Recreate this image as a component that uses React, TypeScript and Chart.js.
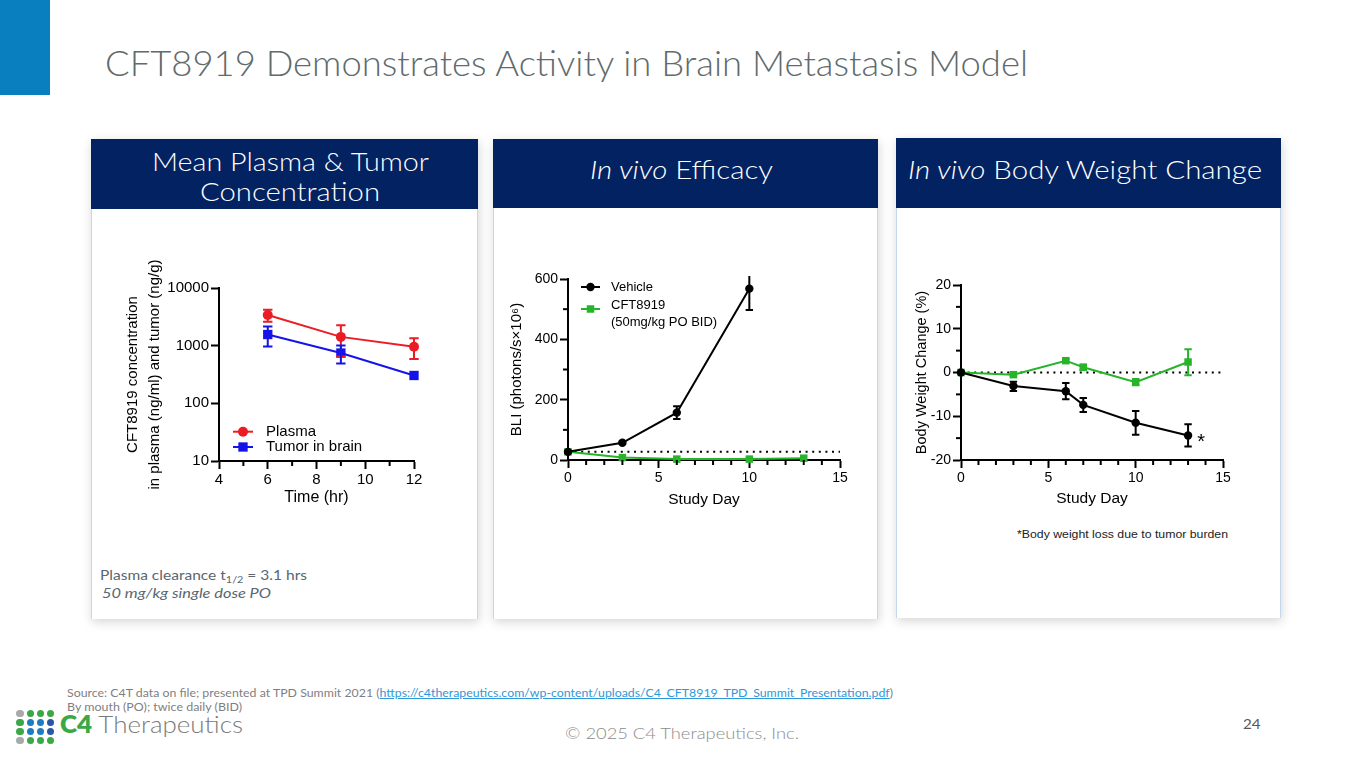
import React, { useEffect, useLayoutEffect, useRef } from 'react';
import { Chart, registerables } from 'chart.js';

Chart.register(...registerables);

const FONT = "'Liberation Sans', Arial, sans-serif";
const SLIDE_FONT = "Lato, 'Open Sans', sans-serif";
Chart.defaults.font.family = FONT;
Chart.defaults.color = '#000';

// ---------- Panel 1: mean plasma & tumor concentration ----------
const pkHours = [6, 9, 12];
const plasmaMean = [3400, 1420, 960];
const plasmaLow = [2600, 650, 590];
const plasmaHigh = [4200, 2250, 1350];
const tumorMean = [1560, 745, 304];
const tumorLow = [970, 490, 304];
const tumorHigh = [2150, 1010, 304];
const pkYTicks = [10, 100, 1000, 10000];

// ---------- Panel 2: in vivo efficacy (BLI) ----------
const effVehicleDays = [0, 3, 6, 10];
const effVehicle = [27, 57, 157, 568];
const effVehicleLow = [23, 53, 136, 497];
const effVehicleHigh = [31, 61, 178, 660];
const effCftDays = [0, 3, 6, 10, 13];
const effCft = [27, 8, 3, 3, 6];
const effCftLow = [27, 8, 3, 3, 6];
const effCftHigh = [27, 8, 3, 3, 6];
const effBaselineDays = [0, 15];
const effBaseline = [27, 27];

// ---------- Panel 3: body weight change ----------
const bwDays = [0, 3, 6, 7, 10, 13];
const bwVehicle = [0, -3.1, -4.3, -7.4, -11.5, -14.4];
const bwVehicleLow = [0, -4.2, -6.1, -9.0, -14.2, -16.9];
const bwVehicleHigh = [0, -2.1, -2.4, -5.8, -8.8, -11.8];
const bwCft = [0, -0.5, 2.7, 1.2, -2.2, 2.4];
const bwCftLow = [0, -0.8, 2.3, 0.6, -2.9, -0.6];
const bwCftHigh = [0, -0.2, 3.1, 1.8, -1.5, 5.3];
const bwBaselineDays = [0, 15];
const bwBaseline = [0, 0];
const bwNoteX = [13.75];
const bwNoteY = [-16.0];
const bwNoteText = ['*'];

const RED = '#ec1c24';
const BLUE = '#1414e8';
const GREEN = '#27b42a';
const BLACK = '#000000';
const NAVY = '#032262';

const pts = (xs: number[], ys: number[]) => xs.map((x, i) => ({ x, y: ys[i] }));

// ---------- plugins ----------
const errorBarPlugin = {
  id: 'errorBars',
  afterDatasetsDraw(chart: any, _a: any, opts: any) {
    const { ctx, chartArea } = chart;
    const xs = chart.scales.x;
    const ys = chart.scales.y;
    ctx.save();
    ctx.beginPath();
    ctx.rect(chartArea.left - 20, chartArea.top - 3, chartArea.right - chartArea.left + 40, chartArea.bottom - chartArea.top + 23);
    ctx.clip();
    chart.data.datasets.forEach((ds: any) => {
      if (!ds.errLow || !ds.errHigh) return;
      ctx.strokeStyle = ds.borderColor;
      ctx.lineWidth = opts.width || 2;
      const c = opts.cap || 4;
      ds.data.forEach((p: any, j: number) => {
        const lo = ds.errLow[j];
        const hi = ds.errHigh[j];
        if (lo === hi) return;
        const px = xs.getPixelForValue(p.x);
        const yl = ys.getPixelForValue(lo);
        const yh = ys.getPixelForValue(hi);
        ctx.beginPath();
        ctx.moveTo(px, yl);
        ctx.lineTo(px, yh);
        ctx.moveTo(px - c, yl);
        ctx.lineTo(px + c, yl);
        ctx.moveTo(px - c, yh);
        ctx.lineTo(px + c, yh);
        ctx.stroke();
      });
    });
    ctx.restore();
  },
};

function drawMarker(ctx: CanvasRenderingContext2D, style: string, x: number, y: number, r: number, color: string) {
  ctx.fillStyle = color;
  ctx.beginPath();
  if (style === 'rect') {
    const s = r * Math.SQRT1_2;
    ctx.rect(x - s, y - s, 2 * s, 2 * s);
  } else {
    ctx.arc(x, y, r, 0, Math.PI * 2);
  }
  ctx.fill();
}

const inlineLegendPlugin = {
  id: 'inlineLegend',
  afterDraw(chart: any, _a: any, opts: any) {
    if (!opts || !opts.rows) return;
    const { ctx, chartArea } = chart;
    const x0 = chartArea.left + opts.x;
    let idx = 0;
    chart.data.datasets.forEach((ds: any) => {
      if (!ds.legendLines) return;
      const y = chartArea.top + opts.rows[idx++];
      ctx.save();
      ctx.strokeStyle = ds.borderColor;
      ctx.lineWidth = ds.borderWidth;
      ctx.beginPath();
      ctx.moveTo(x0, y);
      ctx.lineTo(x0 + opts.lineLen, y);
      ctx.stroke();
      drawMarker(ctx, ds.pointStyle, x0 + opts.lineLen / 2, y, ds.pointRadius, ds.backgroundColor);
      ctx.font = opts.font;
      ctx.fillStyle = '#000';
      ctx.textBaseline = 'middle';
      ctx.textAlign = 'left';
      const lines: string[] = ds.legendLines;
      const start = lines.length > 1 ? y + opts.multiShift : y;
      lines.forEach((t, k) => ctx.fillText(t, x0 + opts.textX, start + k * opts.lineHeight));
      ctx.restore();
    });
  },
};

const minorTickPlugin = {
  id: 'minorTicks',
  afterDraw(chart: any, _a: any, opts: any) {
    if (!opts) return;
    const { ctx, chartArea } = chart;
    ctx.save();
    ctx.strokeStyle = '#000';
    ctx.lineWidth = 2;
    ['x', 'y'].forEach((axis) => {
      const step = opts[axis + 'Step'];
      const major = opts[axis + 'Major'];
      if (!step) return;
      const s = chart.scales[axis];
      for (let v = s.min; v <= s.max + 1e-9; v += step) {
        const q = v / major;
        if (Math.abs(q - Math.round(q)) < 1e-6) continue;
        const p = s.getPixelForValue(v);
        ctx.beginPath();
        if (axis === 'x') {
          ctx.moveTo(p, chartArea.bottom);
          ctx.lineTo(p, chartArea.bottom + opts.len);
        } else {
          ctx.moveTo(chartArea.left - opts.len, p);
          ctx.lineTo(chartArea.left, p);
        }
        ctx.stroke();
      }
    });
    ctx.restore();
  },
};

const notesPlugin = {
  id: 'pointNotes',
  afterDatasetsDraw(chart: any, _a: any, opts: any) {
    if (!opts || !opts.text) return;
    const { ctx } = chart;
    ctx.save();
    ctx.font = opts.font;
    ctx.fillStyle = '#000';
    ctx.textAlign = 'center';
    ctx.textBaseline = 'middle';
    opts.text.forEach((t: string, i: number) => {
      ctx.fillText(t, chart.scales.x.getPixelForValue(opts.xs[i]), chart.scales.y.getPixelForValue(opts.ys[i]));
    });
    ctx.restore();
  },
};

// ---------- axis helpers ----------
function axisStyle(tickSize: number) {
  return {
    border: { display: true, color: '#000', width: 2 },
    grid: { display: true, drawOnChartArea: false, drawTicks: true, tickLength: 8, color: '#000', tickWidth: 2 },
    ticks: { color: '#000', font: { size: tickSize }, padding: 2, autoSkip: false, maxRotation: 0, includeBounds: false },
  };
}

function xTitle(text: string, size: number, pad: number) {
  return { display: true, text, color: '#000', font: { size, lineHeight: 1.2 }, padding: { top: 0, bottom: pad } };
}
function yTitle(text: string | string[], size: number, lh: number, pad: number) {
  return { display: true, text, color: '#000', font: { size, lineHeight: lh }, padding: { top: pad, bottom: 0 } };
}

function lineDs(extra: any) {
  return {
    borderWidth: 2,
    fill: false,
    tension: 0,
    clip: false,
    pointBorderWidth: 0,
    ...extra,
    pointBackgroundColor: extra.backgroundColor,
    pointBorderColor: extra.backgroundColor,
  };
}

function baselineDs(xs: number[], ys: number[]) {
  return {
    data: pts(xs, ys),
    borderColor: '#000',
    borderWidth: 2,
    borderDash: [2, 4.6],
    pointRadius: 0,
    fill: false,
    clip: false,
  };
}

function pkConfig(): any {
  const ax = axisStyle(15);
  return {
    type: 'line',
    data: {
      datasets: [
        lineDs({ data: pts(pkHours, plasmaMean), errLow: plasmaLow, errHigh: plasmaHigh, legendLines: ['Plasma'], borderColor: RED, backgroundColor: RED, pointStyle: 'circle', pointRadius: 5 }),
        lineDs({ data: pts(pkHours, tumorMean), errLow: tumorLow, errHigh: tumorHigh, legendLines: ['Tumor in brain'], borderColor: BLUE, backgroundColor: BLUE, pointStyle: 'rect', pointRadius: 6.6 }),
      ],
    },
    options: {
      animation: false,
      responsive: false,
      events: [],
      layout: { padding: { top: 38, right: 21, left: 0, bottom: 0 } },
      plugins: {
        legend: { display: false },
        tooltip: { enabled: false },
        errorBars: { cap: 4.7, width: 2 },
        inlineLegend: { x: 14, rows: [143.7, 159], lineLen: 20, textX: 33, font: `15px ${FONT}`, lineHeight: 16, multiShift: 0 },
        minorTicks: { xStep: 1, xMajor: 2, len: 5 },
      },
      scales: {
        x: {
          type: 'linear', min: 4, max: 12, ...ax,
          ticks: { ...ax.ticks, stepSize: 2, callback: (v: number) => String(v) },
          title: xTitle('Time (hr)', 16, 7.4),
          afterFit: (s: any) => { s.height = 54; },
        },
        y: {
          type: 'logarithmic', min: 10, max: 10000, ...ax,
          ticks: { ...ax.ticks, callback: (v: number) => String(v) },
          afterBuildTicks: (s: any) => { s.ticks = pkYTicks.map((v) => ({ value: v })); },
          title: yTitle(['CFT8919 concentration', 'in plasma (ng/ml) and tumor (ng/g)'], 15, 1.467, 32),
          afterFit: (s: any) => { s.width = 129; },
        },
      },
    },
    plugins: [errorBarPlugin, inlineLegendPlugin, minorTickPlugin],
  };
}

function effConfig(): any {
  const ax = axisStyle(14);
  return {
    type: 'line',
    data: {
      datasets: [
        lineDs({ data: pts(effVehicleDays, effVehicle), errLow: effVehicleLow, errHigh: effVehicleHigh, legendLines: ['Vehicle'], borderColor: BLACK, backgroundColor: BLACK, pointStyle: 'circle', pointRadius: 4.2 }),
        lineDs({ data: pts(effCftDays, effCft), errLow: effCftLow, errHigh: effCftHigh, legendLines: ['CFT8919', '(50mg/kg PO BID)'], borderColor: GREEN, backgroundColor: GREEN, pointStyle: 'rect', pointRadius: 5.3 }),
        baselineDs(effBaselineDays, effBaseline),
      ],
    },
    options: {
      animation: false,
      responsive: false,
      events: [],
      layout: { padding: { top: 29, right: 20, left: 0, bottom: 0 } },
      plugins: {
        legend: { display: false },
        tooltip: { enabled: false },
        errorBars: { cap: 3.7, width: 2 },
        inlineLegend: { x: 13, rows: [8, 30], lineLen: 19, textX: 30, font: `13px ${FONT}`, lineHeight: 16.3, multiShift: -3.3 },
        minorTicks: { xStep: 1, xMajor: 5, yStep: 100, yMajor: 200, len: 5 },
      },
      scales: {
        x: {
          type: 'linear', min: 0, max: 15, ...ax,
          ticks: { ...ax.ticks, stepSize: 5 },
          title: xTitle('Study Day', 15.5, 6.4),
          afterFit: (s: any) => { s.height = 55; },
        },
        y: {
          type: 'linear', min: 0, max: 600, ...ax,
          ticks: { ...ax.ticks, stepSize: 200 },
          title: yTitle('BLI (photons/s×10⁶)', 15, 1.2, 17.7),
          afterFit: (s: any) => { s.width = 78; },
        },
      },
    },
    plugins: [errorBarPlugin, inlineLegendPlugin, minorTickPlugin],
  };
}

function bwConfig(): any {
  const ax = axisStyle(14);
  return {
    type: 'line',
    data: {
      datasets: [
        lineDs({ data: pts(bwDays, bwVehicle), errLow: bwVehicleLow, errHigh: bwVehicleHigh, borderColor: BLACK, backgroundColor: BLACK, pointStyle: 'circle', pointRadius: 4.2 }),
        lineDs({ data: pts(bwDays, bwCft), errLow: bwCftLow, errHigh: bwCftHigh, borderColor: GREEN, backgroundColor: GREEN, pointStyle: 'rect', pointRadius: 5.3 }),
        baselineDs(bwBaselineDays, bwBaseline),
      ],
    },
    options: {
      animation: false,
      responsive: false,
      events: [],
      layout: { padding: { top: 30, right: 32, left: 0, bottom: 0 } },
      plugins: {
        legend: { display: false },
        tooltip: { enabled: false },
        errorBars: { cap: 3.7, width: 2 },
        pointNotes: { xs: bwNoteX, ys: bwNoteY, text: bwNoteText, font: `20px ${FONT}` },
        minorTicks: { xStep: 1, xMajor: 5, yStep: 5, yMajor: 10, len: 5 },
      },
      scales: {
        x: {
          type: 'linear', min: 0, max: 15, ...ax,
          ticks: { ...ax.ticks, stepSize: 5 },
          title: xTitle('Study Day', 15.5, 7.4),
          afterFit: (s: any) => { s.height = 55; },
        },
        y: {
          type: 'linear', min: -20, max: 20, ...ax,
          ticks: { ...ax.ticks, stepSize: 10 },
          title: yTitle('Body Weight Change (%)', 14.5, 1.2, 18),
          afterFit: (s: any) => { s.width = 66; },
        },
      },
    },
    plugins: [errorBarPlugin, minorTickPlugin, notesPlugin],
  };
}

// ---------- components ----------
function ChartCanvas({ left, top, width, height, make }: { left: number; top: number; width: number; height: number; make: () => any }) {
  const ref = useRef<HTMLCanvasElement>(null);
  useEffect(() => {
    if (!ref.current) return;
    const chart = new Chart(ref.current, make());
    return () => chart.destroy();
  }, []);
  return <canvas ref={ref} width={width} height={height} style={{ position: 'absolute', left, top, width, height }} />;
}

function FitText({ x, y, w, h = 30, align = 'left', style, children }: any) {
  const ref = useRef<HTMLSpanElement>(null);
  useLayoutEffect(() => {
    const fit = () => {
      const el = ref.current;
      if (!el) return;
      el.style.transform = 'none';
      const actual = el.getBoundingClientRect().width;
      if (actual > 0) el.style.transform = `scaleX(${w / actual})`;
    };
    fit();
    if ((document as any).fonts && (document as any).fonts.ready) (document as any).fonts.ready.then(fit);
  }, [w]);
  const left = align === 'center' ? x - w / 2 : x;
  return (
    <div style={{ position: 'absolute', left, top: y - h / 2, width: w, height: h, lineHeight: h + 'px', whiteSpace: 'nowrap', ...style }}>
      <span ref={ref} style={{ display: 'inline-block', transformOrigin: '0 50%' }}>{children}</span>
    </div>
  );
}

function Panel({ left, top, width, bodyTop, bottom }: any) {
  return (
    <>
      <div style={{ position: 'absolute', left, top, width, height: bottom - top, background: '#fff', boxShadow: '1px 3px 10px rgba(0,0,0,0.17)' }} />
      <div style={{ position: 'absolute', left, top: bodyTop, width, height: bottom - bodyTop, borderLeft: '1px solid #c3d8ea', borderRight: '1px solid #c3d8ea', boxSizing: 'border-box' }} />
      <div style={{ position: 'absolute', left, top, width, height: bodyTop - top, background: NAVY }} />
    </>
  );
}

const logoDots = [
  ['#a9a9a9', '#3aa845', '#3aa845', '#3aa845'],
  ['#3aa845', '#1d7cc2', '#1d7cc2', '#2a57a5'],
  ['#3aa845', '#1d7cc2', '#1d7cc2', '#2a57a5'],
  ['#a9a9a9', '#3aa845', '#3aa845', '#3aa845'],
];

export default function App() {
  const headerText = { color: '#fff', fontSize: 26, fontFamily: SLIDE_FONT, fontWeight: 300 };
  return (
    <div style={{ position: 'absolute', left: 0, top: 0, width: 1365, height: 768, background: '#fff', overflow: 'hidden', fontFamily: SLIDE_FONT }}>
      <div style={{ position: 'absolute', left: 0, top: 0, width: 50, height: 95, background: '#0a7fc0' }} />
      <FitText x={105} y={62} w={923} h={46} style={{ fontSize: 35, color: '#5f6b6c', fontWeight: 300 }}>
        CFT8919 Demonstrates Activity in Brain Metastasis Model
      </FitText>

      <Panel left={91} top={139} width={387} bodyTop={209} bottom={619} />
      <Panel left={493} top={139} width={385} bodyTop={208} bottom={619} />
      <Panel left={896} top={138} width={385} bodyTop={208} bottom={618} />

      <FitText x={290} y={161} w={277} h={30} align="center" style={headerText}>Mean Plasma &amp; Tumor</FitText>
      <FitText x={290} y={190.5} w={180} h={30} align="center" style={headerText}>Concentration</FitText>
      <FitText x={681.5} y={169} w={183} h={32} align="center" style={headerText}>
        <i>In vivo</i> Efficacy
      </FitText>
      <FitText x={1085} y={169} w={354} h={32} align="center" style={headerText}>
        <i>In vivo</i> Body Weight Change
      </FitText>

      <ChartCanvas left={90} top={250} width={345} height={265} make={pkConfig} />
      <ChartCanvas left={490} top={250} width={370} height={265} make={effConfig} />
      <ChartCanvas left={895} top={255} width={360} height={260} make={bwConfig} />

      <FitText x={100} y={575} w={207} h={20} style={{ fontSize: 13.5, color: '#5a6670' }}>
        Plasma clearance t<sub style={{ fontSize: '70%', verticalAlign: '-3px', lineHeight: 0 }}>1/2</sub> = 3.1 hrs
      </FitText>
      <FitText x={102} y={592.7} w={169} h={20} style={{ fontSize: 13.5, color: '#5a6670', fontStyle: 'italic' }}>
        50 mg/kg single dose PO
      </FitText>

      <FitText x={1017} y={534} w={211} h={16} style={{ fontSize: 11.5, color: '#222', fontFamily: FONT }}>
        *Body weight loss due to tumor burden
      </FitText>

      <FitText x={67} y={692.7} w={826} h={14} style={{ fontSize: 11, color: '#7f7f7f' }}>
        Source: C4T data on file; presented at TPD Summit 2021 (
        <span style={{ color: '#2f98d8', textDecoration: 'underline' }}>https://c4therapeutics.com/wp-content/uploads/C4_CFT8919_TPD_Summit_Presentation.pdf</span>)
      </FitText>
      <FitText x={67} y={706.7} w={175} h={14} style={{ fontSize: 11, color: '#7f7f7f' }}>
        By mouth (PO); twice daily (BID)
      </FitText>

      {logoDots.map((row, r) =>
        row.map((c, k) => (
          <div key={`${r}-${k}`} style={{ position: 'absolute', left: 20 + k * 10.3 - 3.6, top: 713.3 + r * 9.2 - 3.6, width: 7.2, height: 7.2, borderRadius: '50%', background: c }} />
        ))
      )}
      <FitText x={60} y={724} w={183} h={30} style={{ fontSize: 24, color: '#7a7a7a', fontWeight: 300 }}>
        <b style={{ color: '#3aa845', fontWeight: 800 }}>C4</b> Therapeutics
      </FitText>

      <FitText x={682} y={733} w={234} h={22} align="center" style={{ fontSize: 16, color: '#8c8c8c', fontWeight: 300 }}>
        © 2025 C4 Therapeutics, Inc.
      </FitText>
      <FitText x={1243} y={724} w={17.7} h={18} style={{ fontSize: 14, color: '#595959' }}>
        24
      </FitText>
    </div>
  );
}
